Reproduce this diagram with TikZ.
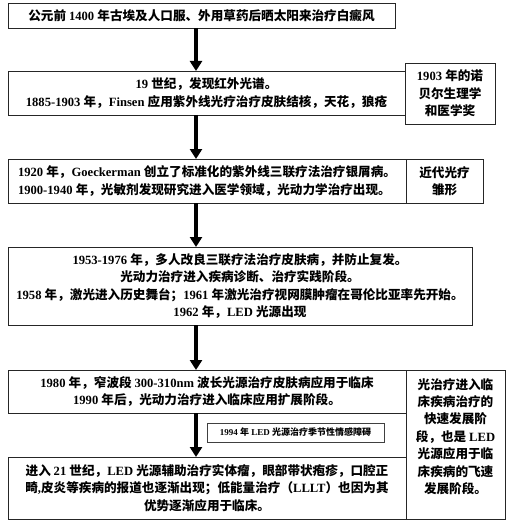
\documentclass[tikz,border=0pt]{standalone}
\usepackage{fontspec}
\setmainfont{Liberation Serif}
\newfontfamily\latinfont{Liberation Serif}
\newfontfamily\cjkfont{Noto Sans CJK SC}
\usetikzlibrary{positioning,arrows.meta}

% switch to the CJK font for Chinese characters and punctuation
\newXeTeXintercharclass\cjkchars
\newcount\cjkcnt
\def\setcjkrange#1#2{\cjkcnt=#1\relax
  \loop\XeTeXcharclass\cjkcnt=\cjkchars\relax
  \ifnum\cjkcnt<#2\relax\advance\cjkcnt by 1\repeat}
\setcjkrange{"3000}{"303F}
\setcjkrange{"4E00}{"9FFF}
\setcjkrange{"FF00}{"FFEF}
\XeTeXinterchartoks 0 \cjkchars = {\cjkfont}
\XeTeXinterchartoks 4095 \cjkchars = {\cjkfont}
\XeTeXinterchartoks \cjkchars 0 = {\latinfont}
\XeTeXinterchartoks 4095 0 = {\latinfont}

\begin{document}
\XeTeXinterchartokenstate=1
\begin{tikzpicture}[
        x = 1pt, y = -1pt,
        every node/.style = {inner sep=0pt,outer sep=0pt,
            font=\fontsize{12.6}{17.4}\selectfont\bfseries},
        stage/.style = {draw=black!85,line width=.8pt,align=center},
        note/.style = {draw=black!75,line width=.6pt,align=center,
            font=\fontsize{9}{11}\selectfont\bfseries},
        arr/.style = {line width=3.5pt,-{Triangle[width=12pt,length=10pt]}},
        ]
        \useasboundingbox (0,0) rectangle (510,524);
        \coordinate (axis) at (196,0);
        \node[stage,minimum width=387pt,minimum height=25pt] (box-1) at (201.5,15.5)
            {公元前 1400 年古埃及人口服、外用草药后晒太阳来治疗白癜风};
        \node[stage,minimum width=397pt,minimum height=44pt] (box-2) at (206.5,93)
            {19 世纪，发现红外光谱。\\
             1885-1903 年，Finsen 应用紫外线光疗治疗皮肤结核，天花，狼疮};
        \node[stage,minimum width=90pt,minimum height=61pt] (side-2) at (450,93.5)
            {1903 年的诺\\贝尔生理学\\和医学奖};
        \node[stage,align=left,minimum width=398pt,minimum height=44pt] (box-3) at (207,181)
            {1920 年，Goeckerman 创立了标准化的紫外线三联疗法治疗银屑病。\\
             1900-1940 年，光敏剂发现研究进入医学领域，光动力学治疗出现。};
        \node[stage,minimum width=77pt,minimum height=44pt] (side-3) at (444.5,181)
            {近代光疗\\雏形};
        \node[stage,minimum width=464pt,minimum height=78pt] (box-4) at (240,286)
            {1953-1976 年，多人改良三联疗法治疗皮肤病，并防止复发。\\
             光动力治疗进入疾病诊断、治疗实践阶段。\\
             1958 年，激光进入历史舞台；1961 年激光治疗视网膜肿瘤在哥伦比亚率先开始。\\
             1962 年，LED 光源出现};
        \node[stage,minimum width=398pt,minimum height=43pt] (box-5) at (207,391.5)
            {1980 年，窄波段 300-310nm 波长光源治疗皮肤病应用于临床\\
             1990 年后，光动力治疗进入临床应用扩展阶段。};
        \node[stage,minimum width=99pt,minimum height=149pt] (side-5) at (455.5,444.5) {};
        \node[align=center] (side-5-text) at ([yshift=8pt]side-5.center)
            {光治疗进入临\\床疾病治疗的\\快速发展阶\\段，也是 LED\\光源应用于临\\床疾病的飞速\\发展阶段。};
        \node[note,minimum width=177pt,minimum height=19pt] (note-5) at (295.5,432.5)
            {1994 年 LED 光源治疗季节性情感障碍};
        \node[stage,minimum width=398pt,minimum height=62pt] (box-6) at (207,488)
            {进入 21 世纪，LED 光源辅助治疗实体瘤，眼部带状疱疹，口腔正\\
             畸,皮炎等疾病的报道也逐渐出现；低能量治疗（LLLT）也因为其\\
             优势逐渐应用于临床。};
        \draw[arr] (box-1.south -| axis) -- (box-2.north -| axis);
        \draw[arr] (box-2.south -| axis) -- (box-3.north -| axis);
        \draw[arr] (box-3.south -| axis) -- (box-4.north -| axis);
        \draw[arr] (box-4.south -| axis) -- (box-5.north -| axis);
        \draw[arr] (box-5.south -| axis) -- (box-6.north -| axis);
    \end{tikzpicture}
\end{document}
